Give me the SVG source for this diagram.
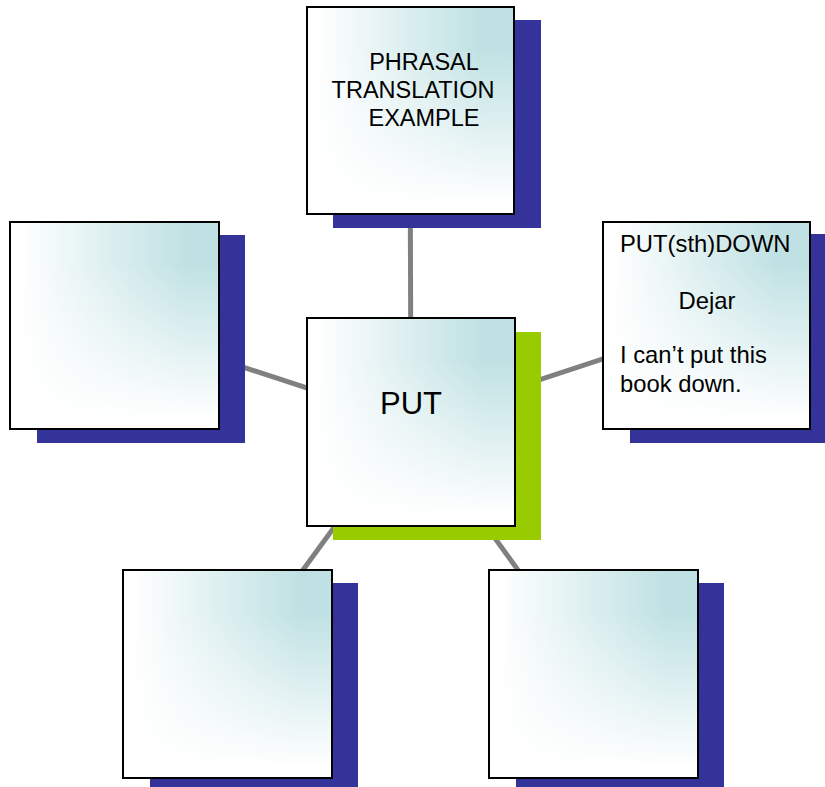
<svg xmlns="http://www.w3.org/2000/svg" width="825" height="787" viewBox="0 0 825 787">
<style>
.conn{stroke:#808080;stroke-width:5;fill:none}
.sh{fill:#343399}
.shg{fill:#99CC00}
.base{fill:#BFE1E3}
.gh{fill:url(#gh)}
.gv{fill:url(#gv)}
.bd{fill:none;stroke:#000;stroke-width:2}
text{font-family:"Liberation Sans",Arial,sans-serif;fill:#000}
.t23{font-size:23.5px}
.t24{font-size:23.8px}
.t30{font-size:31px}
</style>
<defs>
<linearGradient id="gh" x1="0" y1="0" x2="1" y2="0">
<stop offset="0.05" stop-color="#fff" stop-opacity="1"/>
<stop offset="0.85" stop-color="#fff" stop-opacity="0"/>
</linearGradient>
<linearGradient id="gv" x1="0" y1="1" x2="0" y2="0">
<stop offset="0.05" stop-color="#fff" stop-opacity="1"/>
<stop offset="0.8" stop-color="#fff" stop-opacity="0"/>
</linearGradient>
</defs>
<rect width="825" height="787" fill="#fff"/>
<g id="connectors">
<line class="conn" x1="411" y1="422" x2="410" y2="110"/>
<line class="conn" x1="411" y1="422" x2="114" y2="325"/>
<line class="conn" x1="411" y1="422" x2="706" y2="325"/>
<line class="conn" x1="411" y1="422" x2="227" y2="674"/>
<line class="conn" x1="411" y1="422" x2="593" y2="674"/>
</g>
<g id="node-top">
<rect class="sh" x="333" y="20" width="208" height="208"/>
<rect class="base" x="307" y="7" width="207" height="207"/>
<rect class="gh" x="307" y="7" width="207" height="207"/>
<rect class="gv" x="307" y="7" width="207" height="207"/>
<rect class="bd" x="307" y="7" width="207" height="207"/>
<text class="t23" x="424" y="70" text-anchor="middle">PHRASAL</text>
<text class="t23" x="413" y="98" text-anchor="middle">TRANSLATION</text>
<text class="t23" x="424" y="126" text-anchor="middle">EXAMPLE</text>
</g>
<g id="node-left">
<rect class="sh" x="37" y="235" width="208" height="208"/>
<rect class="base" x="10" y="222" width="209" height="207"/>
<rect class="gh" x="10" y="222" width="209" height="207"/>
<rect class="gv" x="10" y="222" width="209" height="207"/>
<rect class="bd" x="10" y="222" width="209" height="207"/>
</g>
<g id="node-right">
<rect class="sh" x="630" y="234" width="208" height="209"/>
<rect class="base" x="603" y="222" width="207" height="207"/>
<rect class="gh" x="603" y="222" width="207" height="207"/>
<rect class="gv" x="603" y="222" width="207" height="207"/>
<rect class="bd" x="603" y="222" width="207" height="207"/>
<text class="t24" x="620" y="252">PUT(sth)DOWN</text>
<text class="t24" x="707" y="309" text-anchor="middle">Dejar</text>
<text class="t24" x="620" y="363">I can’t put this</text>
<text class="t24" x="620" y="392">book down.</text>
</g>
<g id="node-center">
<rect class="shg" x="333" y="332" width="208" height="208"/>
<rect class="base" x="307" y="318" width="208" height="208"/>
<rect class="gh" x="307" y="318" width="208" height="208"/>
<rect class="gv" x="307" y="318" width="208" height="208"/>
<rect class="bd" x="307" y="318" width="208" height="208"/>
<text class="t30" x="411" y="414" text-anchor="middle">PUT</text>
</g>
<g id="node-bottom-left">
<rect class="sh" x="150" y="583" width="208" height="208"/>
<rect class="base" x="123" y="570" width="209" height="208"/>
<rect class="gh" x="123" y="570" width="209" height="208"/>
<rect class="gv" x="123" y="570" width="209" height="208"/>
<rect class="bd" x="123" y="570" width="209" height="208"/>
</g>
<g id="node-bottom-right">
<rect class="sh" x="516" y="583" width="208" height="208"/>
<rect class="base" x="489" y="570" width="209" height="208"/>
<rect class="gh" x="489" y="570" width="209" height="208"/>
<rect class="gv" x="489" y="570" width="209" height="208"/>
<rect class="bd" x="489" y="570" width="209" height="208"/>
</g>
</svg>
